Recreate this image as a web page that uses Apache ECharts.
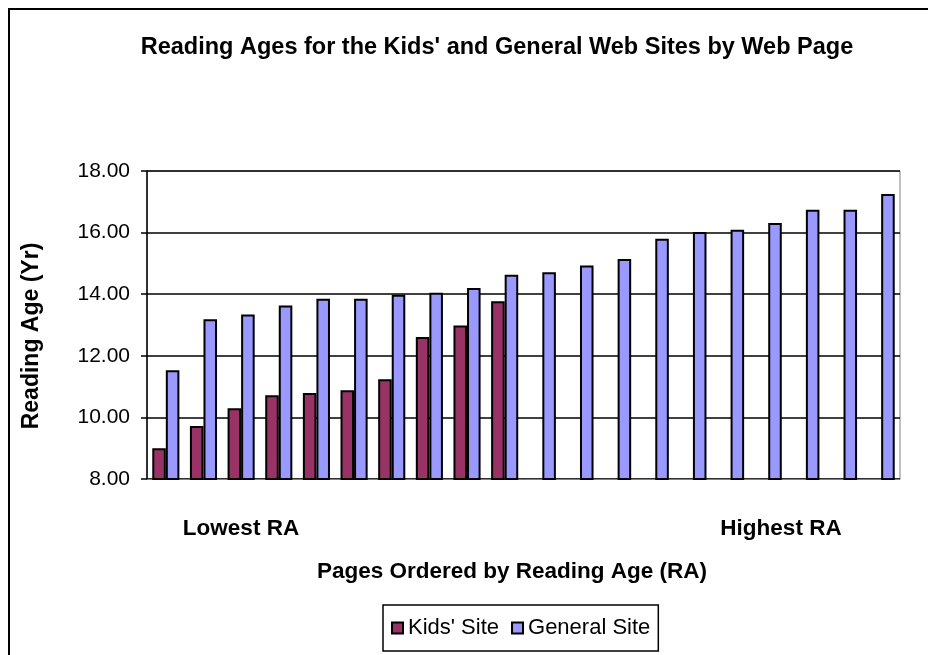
<!DOCTYPE html>
<html>
<head>
<meta charset="utf-8">
<script src="https://cdn.jsdelivr.net/npm/echarts@6/dist/echarts.min.js"></script>
<style>
html,body{margin:0;padding:0;background:#fff;}
#chart{width:928px;height:655px;}
</style>
</head>
<body>
<div id="chart"></div>
<script>
var titleText = "Reading Ages for the Kids' and General Web Sites by Web Page";
var yAxisTitle = "Reading Age (Yr)";
var xAxisTitle = "Pages Ordered by Reading Age (RA)";
var lowLabel = "Lowest RA";
var highLabel = "Highest RA";
var seriesNames = ["Kids' Site", "General Site"];
var categories = ["1","2","3","4","5","6","7","8","9","10","11","12","13","14","15","16","17","18","19","20"];
var kidsSite = [9.00, 9.72, 10.30, 10.72, 10.79, 10.88, 11.24, 12.61, 12.98, 13.77, null, null, null, null, null, null, null, null, null, null];
var generalSite = [11.53, 13.19, 13.34, 13.63, 13.85, 13.85, 13.98, 14.05, 14.20, 14.63, 14.71, 14.93, 15.14, 15.80, 16.02, 16.09, 16.31, 16.74, 16.74, 17.25];
var yMin = 8, yMax = 18, yStep = 2;

var font = "'Liberation Sans', Arial, sans-serif";
var chart = echarts.init(document.getElementById('chart'));
chart.setOption({
  backgroundColor: '#ffffff',
  animation: false,
  title: {
    text: titleText,
    left: 492,
    top: 31,
    textAlign: 'center',
    textStyle: {fontFamily: font, fontSize: 23.5, fontWeight: 'bold', color: '#000'}
  },
  grid: {left: 147, top: 171, width: 753, height: 308, show: true, borderColor: '#808080', borderWidth: 1, backgroundColor: 'transparent'},
  legend: {
    data: seriesNames,
    left: 383,
    top: 605,
    orient: 'horizontal',
    icon: 'rect',
    itemWidth: 11,
    itemHeight: 11,
    itemGap: 12,
    padding: [12, 8, 12, 8],
    borderColor: '#000',
    borderWidth: 1.5,
    textStyle: {fontFamily: font, fontSize: 22, color: '#000'}
  },
  xAxis: {
    type: 'category',
    data: categories,
    axisLine: {show: true, lineStyle: {color: '#808080', width: 1}},
    axisTick: {show: false},
    axisLabel: {show: false},
    splitLine: {show: false}
  },
  yAxis: {
    type: 'value',
    min: yMin,
    max: yMax,
    interval: yStep,
    axisLine: {show: true, lineStyle: {color: '#000', width: 1.5}},
    axisTick: {show: true, length: 6, lineStyle: {color: '#000', width: 1.5}},
    axisLabel: {fontFamily: font, fontSize: 21, color: '#000', margin: 17, formatter: function (v) { return v.toFixed(2); }},
    splitLine: {show: true, lineStyle: {color: '#000', width: 1.5}}
  },
  series: [
    {
      name: seriesNames[0], type: 'bar', data: kidsSite,
      barGap: '0%', barCategoryGap: '28%',
      itemStyle: {color: '#993366', borderColor: '#000', borderWidth: 2}
    },
    {
      name: seriesNames[1], type: 'bar', data: generalSite,
      barGap: '0%', barCategoryGap: '28%',
      itemStyle: {color: '#9999ff', borderColor: '#000', borderWidth: 2}
    }
  ],
  graphic: [
    {type: 'rect', shape: {x: 9, y: 9, width: 1000, height: 1000}, style: {fill: 'none', stroke: '#000', lineWidth: 2}, silent: true},
    {type: 'text', x: 32, y: 336, rotation: Math.PI / 2, style: {text: yAxisTitle, font: 'bold 23px ' + font, fill: '#000', textAlign: 'center', textVerticalAlign: 'middle'}},
    {type: 'text', x: 241, y: 529, style: {text: lowLabel, font: 'bold 22.5px ' + font, fill: '#000', textAlign: 'center', textVerticalAlign: 'middle'}},
    {type: 'text', x: 781, y: 529, style: {text: highLabel, font: 'bold 22.5px ' + font, fill: '#000', textAlign: 'center', textVerticalAlign: 'middle'}},
    {type: 'text', x: 512, y: 572, style: {text: xAxisTitle, font: 'bold 22.5px ' + font, fill: '#000', textAlign: 'center', textVerticalAlign: 'middle'}}
  ]
});
</script>
</body>
</html>
